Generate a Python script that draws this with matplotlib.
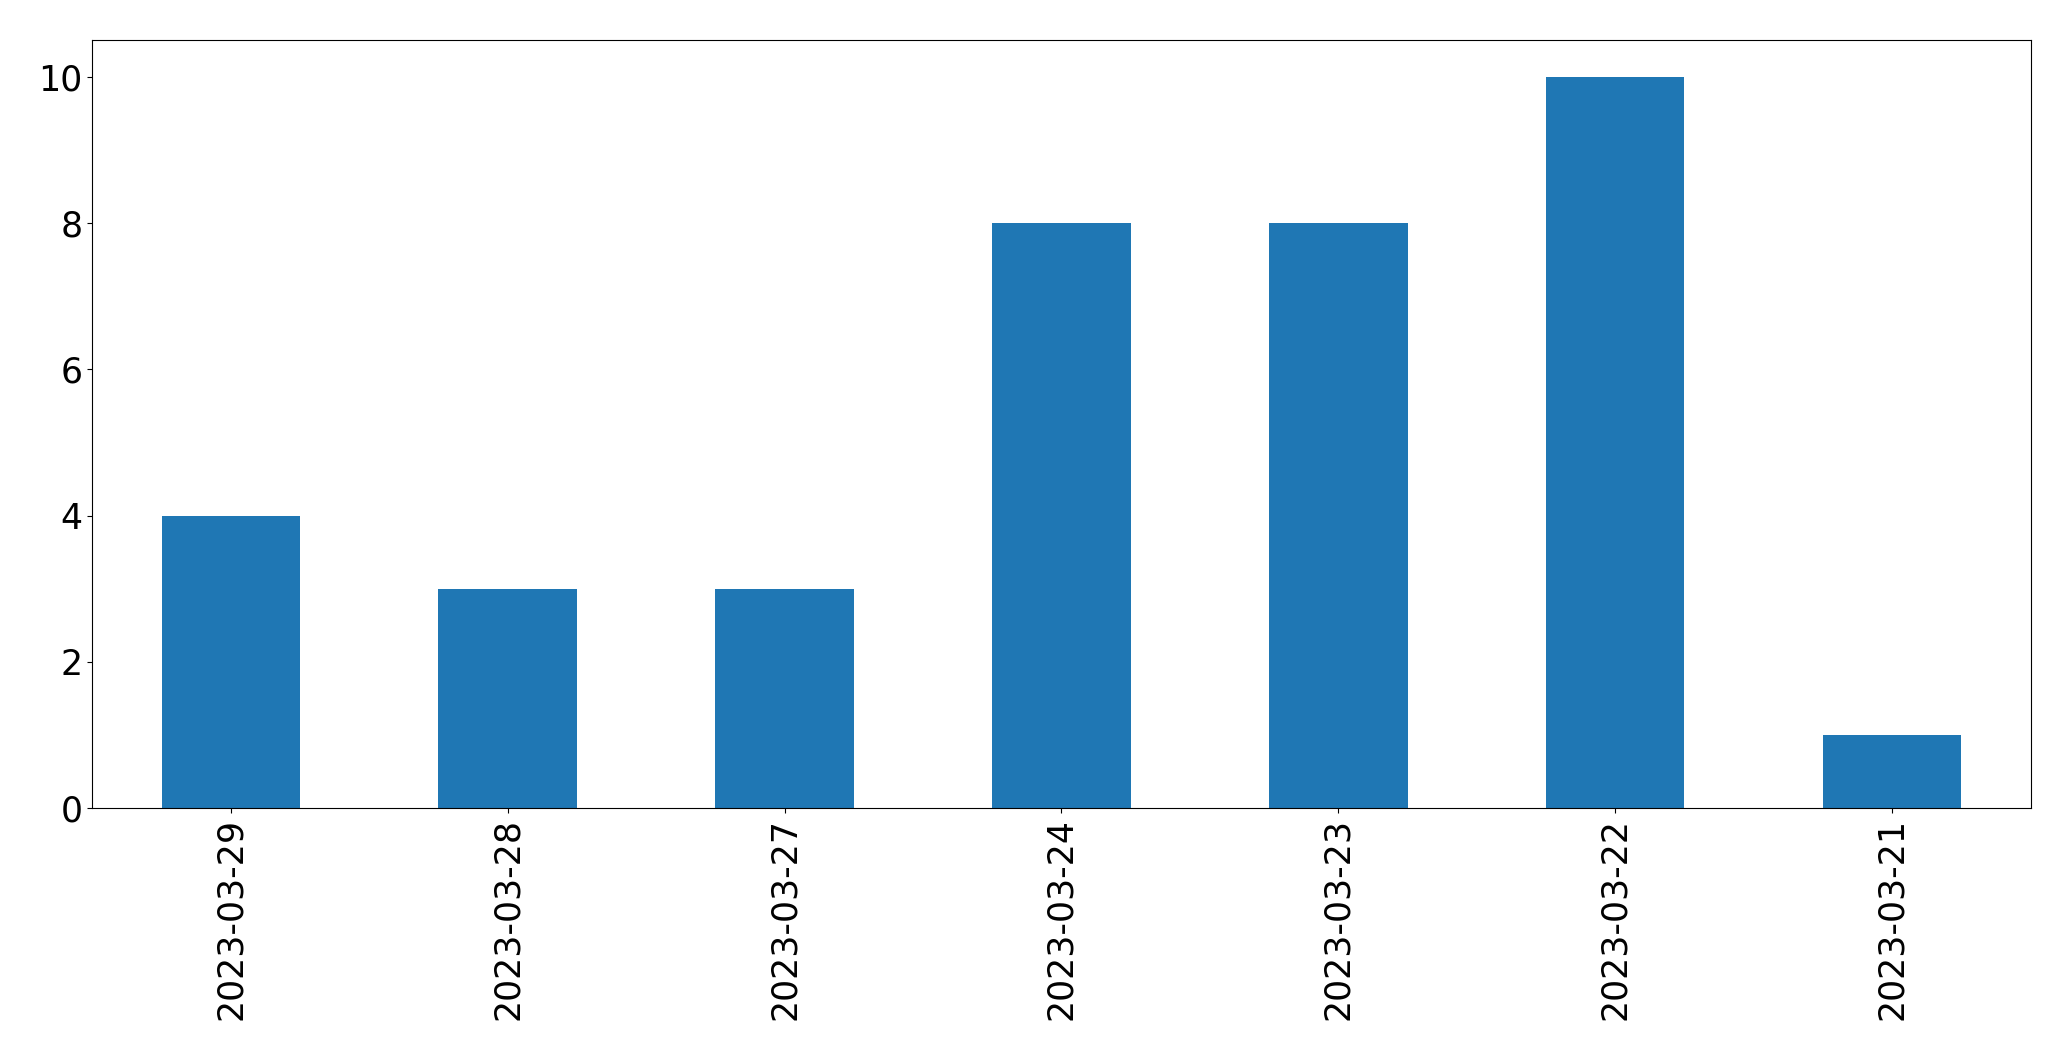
from matplotlib import pyplot as plt
import numpy as np

dates = ["2023-03-29", "2023-03-28", "2023-03-27", "2023-03-24",
         "2023-03-23", "2023-03-22", "2023-03-21"]
counts = [4, 3, 3, 8, 8, 10, 1]

fig, ax = plt.subplots(figsize=(20.71, 10.61), dpi=100)
fig.subplots_adjust(left=0.0446, right=0.9805, top=0.962, bottom=0.2385)

x = np.arange(len(dates))
ax.bar(x, counts, width=0.5, color="#1f77b4")
ax.set_xlim(-0.5, len(dates) - 0.5)
ax.set_xticks(x)
ax.set_xticklabels(dates, rotation=90)
ax.tick_params(labelsize=25)

fig.savefig("out.png")
